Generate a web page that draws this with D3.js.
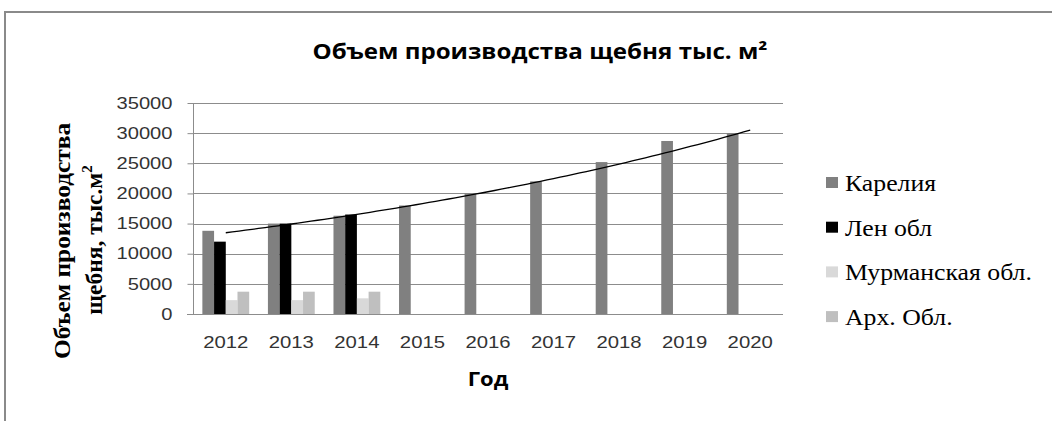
<!DOCTYPE html>
<html>
<head>
<meta charset="utf-8">
<script src="https://cdnjs.cloudflare.com/ajax/libs/d3/7.8.5/d3.min.js"></script>
<style>
  body { margin: 0; background: #fff; }
  svg { display: block; }
</style>
</head>
<body>
<svg id="chart" width="1052" height="421"></svg>
<script>
// data
const years = ['2012', '2013', '2014', '2015', '2016', '2017', '2018', '2019', '2020'];
const karelia  = [13800, 15000, 16300, 18000, 20000, 22000, 25200, 28700, 30000];
const lenObl   = [12000, 15000, 16500, null, null, null, null, null, null];
const murmansk = [2300, 2300, 2600, null, null, null, null, null, null];
const arkh     = [3700, 3700, 3700, null, null, null, null, null, null];
const seriesNames = ['Карелия', 'Лен обл', 'Мурманская обл.', 'Арх. Обл.'];
const seriesColors = ['#808080', '#000000', '#d9d9d9', '#bfbfbf'];
const yTicks = [0, 5000, 10000, 15000, 20000, 25000, 30000, 35000];

const allSeries = [karelia, lenObl, murmansk, arkh];

const svg = d3.select('#chart');
svg.append('rect').attr('width', 1052).attr('height', 421).attr('fill', '#fff');

// chart area border (only left and top show in the crop)
svg.append('path')
    .attr('d', 'M5,421 V12 H1052')
    .attr('fill', 'none')
    .attr('stroke', '#8a8a8a')
    .attr('stroke-width', 2);

const plot = {left: 193, right: 783, top: 103, bottom: 314};

const y = d3.scaleLinear().domain([0, 35000]).range([plot.bottom, plot.top]);
const x0 = d3.scaleBand().domain(years).range([plot.left, plot.right]);
const x1 = d3.scaleBand().domain(d3.range(allSeries.length))
    .range([0, x0.bandwidth()]).paddingOuter(0.8).paddingInner(0);

// stretch text horizontally like the original (it was scaled)
function stretch(sel, k) {
    sel.each(function() {
        const w = this.getComputedTextLength();
        this.setAttribute('textLength', w * k);
        this.setAttribute('lengthAdjust', 'spacingAndGlyphs');
    });
}

// gridlines
svg.append('g').selectAll('line')
    .data(yTicks.filter(d => d > 0))
    .join('line')
    .attr('x1', plot.left).attr('x2', plot.right)
    .attr('y1', d => Math.round(y(d)) + 0.5).attr('y2', d => Math.round(y(d)) + 0.5)
    .attr('stroke', '#8c8c8c').attr('stroke-width', 1);

// bars
const barData = [];
allSeries.forEach((s, si) => s.forEach((v, i) => {
    if (v != null) barData.push({year: years[i], si: si, v: v});
}));
svg.append('g').selectAll('rect')
    .data(barData)
    .join('rect')
    .attr('x', d => x0(d.year) + x1(d.si))
    .attr('width', x1.bandwidth())
    .attr('y', d => y(d.v))
    .attr('height', d => plot.bottom - y(d.v))
    .attr('fill', d => seriesColors[d.si]);

// exponential trend line for Karelia (least squares on log values)
const lx = karelia.map((v, i) => i);
const ly = karelia.map(v => Math.log(v));
const mx = d3.mean(lx), my = d3.mean(ly);
const b = d3.sum(lx, (xv, i) => (xv - mx) * (ly[i] - my)) / d3.sum(lx, xv => (xv - mx) * (xv - mx));
const a = my - b * mx;
const trend = d3.range(0, karelia.length - 1 + 0.001, 0.1).map(t => [t, Math.exp(a + b * t)]);
const trendX = t => x0(years[0]) + x0.bandwidth() / 2 + t * x0.step();

svg.append('path')
    .datum(trend)
    .attr('d', d3.line().x(d => trendX(d[0])).y(d => y(d[1])))
    .attr('fill', 'none')
    .attr('stroke', '#000')
    .attr('stroke-width', 1.3);

// y axis
const yAxis = svg.append('g')
    .attr('transform', `translate(${plot.left + 0.5},0)`)
    .call(d3.axisLeft(y).tickValues(yTicks).tickSize(6).tickPadding(15).tickFormat(d3.format('d')));
yAxis.select('.domain').attr('stroke', '#8c8c8c').attr('d', `M0,${plot.top}V${plot.bottom}`);
yAxis.selectAll('.tick line').attr('stroke', '#8c8c8c');
yAxis.selectAll('.tick text')
    .attr('font-family', 'Liberation Sans, Arial, sans-serif')
    .attr('font-size', 16.5)
    .attr('fill', '#333')
    .call(stretch, 1.22);

// x axis line
svg.append('line')
    .attr('x1', plot.left - 6).attr('x2', plot.right)
    .attr('y1', plot.bottom + 0.5).attr('y2', plot.bottom + 0.5)
    .attr('stroke', '#8c8c8c');

svg.append('g').selectAll('text')
    .data(years)
    .join('text')
    .attr('x', d => x0(d) + x0.bandwidth() / 2)
    .attr('y', 348)
    .attr('text-anchor', 'middle')
    .attr('font-family', 'Liberation Sans, Arial, sans-serif')
    .attr('font-size', 16.5)
    .attr('fill', '#333')
    .text(d => d)
    .call(stretch, 1.23);

// title
svg.append('text')
    .attr('x', 540).attr('y', 59)
    .attr('text-anchor', 'middle')
    .attr('font-family', 'Open Sans, sans-serif')
    .attr('font-weight', 700)
    .attr('font-size', 21)
    .attr('textLength', 455)
    .attr('lengthAdjust', 'spacingAndGlyphs')
    .text('Объем производства щебня тыс. м²');

// x axis title
svg.append('text')
    .attr('x', (plot.left + plot.right) / 2).attr('y', 386)
    .attr('text-anchor', 'middle')
    .attr('font-family', 'Open Sans, sans-serif')
    .attr('font-weight', 700)
    .attr('font-size', 20)
    .text('Год')
    .call(stretch, 1.1);

// y axis title, two lines
const yTitle = svg.append('g')
    .attr('font-family', 'Liberation Serif, Times New Roman, serif')
    .attr('font-weight', 700)
    .attr('font-size', 23.5)
    .attr('text-anchor', 'middle');
yTitle.append('text')
    .attr('transform', 'translate(70,241) rotate(-90)')
    .text('Объем производства')
    .call(stretch, 1.08);
const l2 = yTitle.append('text')
    .attr('transform', 'translate(102,240) rotate(-90)');
l2.append('tspan').text('щебня, тыс.м');
l2.append('tspan').attr('font-size', 15).attr('dy', -10).text('2');

// legend
const legend = svg.append('g').selectAll('g')
    .data(seriesNames)
    .join('g')
    .attr('transform', (d, i) => `translate(826,${183 + i * 44.7})`);
legend.append('rect')
    .attr('x', 0).attr('y', -6).attr('width', 12).attr('height', 11)
    .attr('fill', (d, i) => seriesColors[i]);
legend.append('text')
    .attr('x', 19).attr('y', 8)
    .attr('font-family', 'Liberation Serif, Times New Roman, serif')
    .attr('font-size', 23)
    .text(d => d)
    .call(stretch, 1.12);
</script>
</body>
</html>
